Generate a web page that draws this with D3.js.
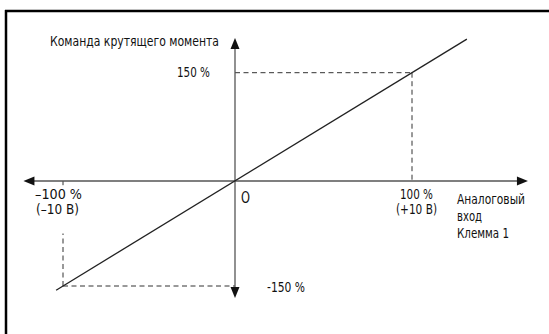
<!DOCTYPE html>
<html><head><meta charset="utf-8">
<script src="https://cdn.jsdelivr.net/npm/d3@7"></script>
<style>
html,body{margin:0;padding:0;background:#fff;}
svg{display:block;}
text{font-family:"Liberation Sans Narrow","DejaVu Sans Condensed","Roboto",sans-serif;font-size:14px;fill:#111;}
</style></head>
<body>
<svg id="c" width="549" height="334"></svg>
<script>
// Data
const inputPct = [-104, 131];            // line extent (analog input %)
const gain = 1.5;                         // torque % per input %
const xRefs = [-100, 100];
const yRefs = [-150, 150];
const xTickLabels = [["–100 %", "(–10 В)"], ["100 %", "(+10 В)"]];
const yTickLabels = ["-150 %", "150 %"];
const xAxisLabel = ["Аналоговый", "вход", "Клемма 1"];
const yAxisLabel = "Команда крутящего момента";
const originLabel = "O";
const xAxisExtent = [-123, 165.5];
const yAxisExtent = [-167, 198];

const svg = d3.select("#c");
const x = d3.scaleLinear().domain([-100, 0, 100]).range([63, 235, 412]);
const y = d3.scaleLinear().domain([-150, 0, 150]).range([286, 181, 72.7]);

// frame (top & left only)
svg.append("line").attr("x1", 5).attr("x2", 549).attr("y1", 11).attr("y2", 11).attr("stroke", "#000").attr("stroke-width", 2.5);
svg.append("line").attr("x1", 6).attr("x2", 6).attr("y1", 10).attr("y2", 334).attr("stroke", "#000").attr("stroke-width", 2.5);

// dashed guides
const dash = "5,3.5";
const g = svg.append("g").attr("stroke", "#333").attr("stroke-width", 1).attr("stroke-dasharray", dash).attr("fill", "none");
g.append("line").attr("x1", x(0)).attr("x2", x(xRefs[1])).attr("y1", y(yRefs[1])).attr("y2", y(yRefs[1]));
g.append("line").attr("x1", x(xRefs[1])).attr("x2", x(xRefs[1])).attr("y1", y(yRefs[1])).attr("y2", y(0));
g.append("line").attr("x1", x(xRefs[0])).attr("x2", x(0)).attr("y1", y(yRefs[0])).attr("y2", y(yRefs[0]));
g.append("line").attr("x1", x(xRefs[0])).attr("x2", x(xRefs[0])).attr("y1", y(yRefs[0])).attr("y2", y(-75));
g.append("line").attr("x1", x(xRefs[0])).attr("x2", x(xRefs[0])).attr("y1", y(0)).attr("y2", y(-6));

// axes
const ax = svg.append("g").attr("stroke", "#555").attr("stroke-width", 1.3);
ax.append("line").attr("x1", x(xAxisExtent[0]) + 8).attr("x2", x(xAxisExtent[1]) - 8).attr("y1", y(0)).attr("y2", y(0));
ax.append("line").attr("x1", x(0)).attr("x2", x(0)).attr("y1", y(yAxisExtent[1]) + 8).attr("y2", y(yAxisExtent[0]) - 8);

const L = 11, W = 4.5;
const arrows = [
  [[x(xAxisExtent[0]), y(0)], [x(xAxisExtent[0]) + L, y(0) - W], [x(xAxisExtent[0]) + L, y(0) + W]],
  [[x(xAxisExtent[1]), y(0)], [x(xAxisExtent[1]) - L, y(0) - W], [x(xAxisExtent[1]) - L, y(0) + W]],
  [[x(0), y(yAxisExtent[1])], [x(0) - W, y(yAxisExtent[1]) + L], [x(0) + W, y(yAxisExtent[1]) + L]],
  [[x(0), y(yAxisExtent[0])], [x(0) - W, y(yAxisExtent[0]) - L], [x(0) + W, y(yAxisExtent[0]) - L]]
];
svg.selectAll("path.arrow").data(arrows).enter().append("path").attr("class", "arrow")
  .attr("d", d => "M" + d.map(p => p.join(",")).join("L") + "Z").attr("fill", "#111");

// characteristic line
const line = d3.line().x(d => x(d)).y(d => y(d * gain));
svg.append("path").datum(inputPct).attr("d", line).attr("stroke", "#222").attr("stroke-width", 1.3).attr("fill", "none");

// texts
function txt(s, px, py, w, size) {
  const t = svg.append("text").attr("x", px).attr("y", py).text(s);
  if (size) t.style("font-size", size + "px");
  if (w) t.attr("textLength", w).attr("lengthAdjust", "spacingAndGlyphs");
  return t;
}
txt(yAxisLabel, 50, 46, 169);
txt(yTickLabels[1], 177, 77, 33);
txt(yTickLabels[0], 267, 292, 38);
txt(originLabel, 241, 203, 9, 15);
txt(xTickLabels[0][0], 35, 199, 47);
txt(xTickLabels[0][1], 36, 214, 43);
txt(xTickLabels[1][0], 400, 199, 33);
txt(xTickLabels[1][1], 396, 214, 41);
txt(xAxisLabel[0], 457, 204, 68);
txt(xAxisLabel[1], 457, 221, 25);
txt(xAxisLabel[2], 457, 238, 52);
</script>
</body></html>
